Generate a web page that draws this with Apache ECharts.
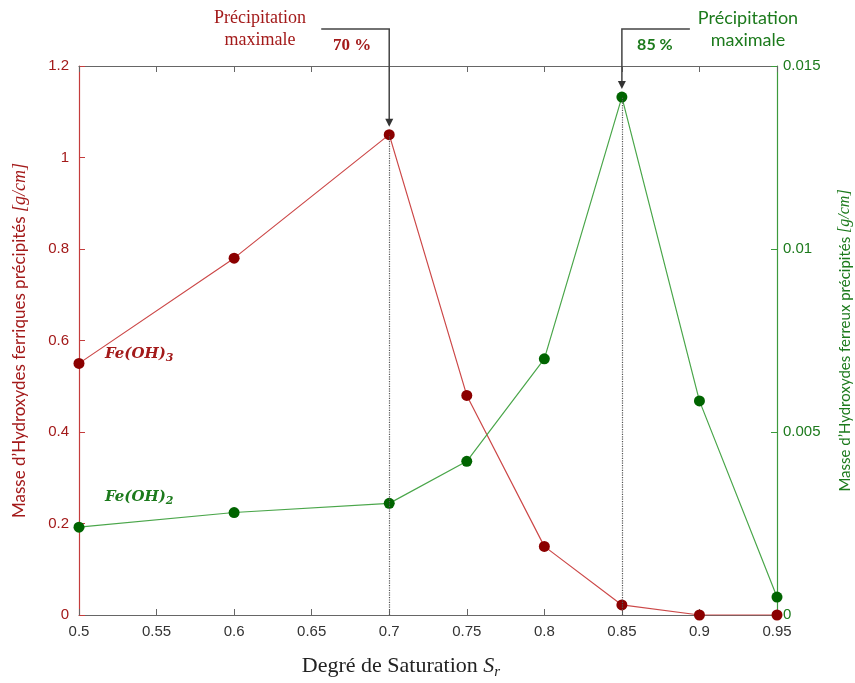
<!DOCTYPE html>
<html><head><meta charset="utf-8">
<script src="https://cdn.jsdelivr.net/npm/echarts@6/dist/echarts.min.js"></script>
<style>html,body{margin:0;padding:0;background:#fff}#c{width:855px;height:683px}</style>
</head><body><div id="c"></div>
<script>
const saturation = [0.5, 0.6, 0.7, 0.75, 0.8, 0.85, 0.9, 0.95];
const feOH3 = [0.55, 0.78, 1.05, 0.48, 0.15, 0.022, 0, 0];
const feOH2 = [0.0024, 0.0028, 0.00305, 0.0042, 0.0070, 0.01415, 0.00585, 0.00049];
const leftTicks = { min: 0, max: 1.2, interval: 0.2 };
const rightTicks = { min: 0, max: 0.015, interval: 0.005 };
const xTicks = { min: 0.5, max: 0.95, interval: 0.05 };
const peak3 = [0.7, 1.05];
const peak2 = [0.85, 0.01415];

const RED = '#a31a1a', RED_LINE = '#cc4848', RED_MK = '#8b0000';
const GREEN = '#1c7a1c', GREEN_LINE = '#4aa64a', GREEN_MK = '#006400';
const GRAY = '#666';
const fmt = v => String(+v.toFixed(4));

const chart = echarts.init(document.getElementById('c'));
const option = {
  animation: false,
  grid: { left: 79, right: 78, top: 66, bottom: 68, containLabel: false, outerBoundsMode: 'none' },
  xAxis: [{
    type: 'value', position: 'bottom', min: xTicks.min, max: xTicks.max, interval: xTicks.interval,
    axisLine: { onZero: false, lineStyle: { color: GRAY, width: 1.2 } },
    axisTick: { inside: true, length: 6, lineStyle: { color: GRAY } },
    splitLine: { show: false },
    axisLabel: { color: '#333', fontSize: 15, fontFamily: 'Liberation Sans', margin: 9, formatter: fmt },
    name: '{n|Degré de Saturation }{i|S}{s|r}', nameLocation: 'middle', nameGap: 38,
    nameTextStyle: { padding: [0, 54, 0, 0], rich: {
      n: { fontFamily: 'Liberation Serif', fontSize: 22, color: '#222' },
      i: { fontFamily: 'Liberation Serif', fontStyle: 'italic', fontSize: 22, color: '#222' },
      s: { fontFamily: 'Liberation Serif', fontStyle: 'italic', fontSize: 15, color: '#222', verticalAlign: 'bottom', padding: [12, 0, 0, 0] }
    } }
  }, {
    type: 'value', position: 'top', min: xTicks.min, max: xTicks.max, interval: xTicks.interval,
    axisLine: { onZero: false, lineStyle: { color: GRAY, width: 1.2 } },
    axisTick: { inside: true, length: 6, lineStyle: { color: GRAY } },
    axisLabel: { show: false }, splitLine: { show: false }
  }],
  yAxis: [{
    type: 'value', position: 'left', min: leftTicks.min, max: leftTicks.max, interval: leftTicks.interval,
    axisLine: { show: true, onZero: false, lineStyle: { color: '#c43c3c', width: 1.2 } },
    axisTick: { show: true, inside: true, length: 6, lineStyle: { color: '#c43c3c' } },
    splitLine: { show: false },
    axisLabel: { color: RED, fontSize: 15, fontFamily: 'Liberation Sans', margin: 10, formatter: fmt },
    name: '{n|Masse d’Hydroxydes ferriques précipités }{i|[g/cm]}', nameLocation: 'middle', nameGap: 50,
    nameTextStyle: { rich: {
      n: { fontFamily: 'Lato', fontSize: 17, color: RED },
      i: { fontFamily: 'Liberation Serif', fontStyle: 'italic', fontSize: 18, color: RED }
    } }
  }, {
    type: 'value', position: 'right', min: rightTicks.min, max: rightTicks.max, interval: rightTicks.interval,
    axisLine: { show: true, onZero: false, lineStyle: { color: '#3c9a3c', width: 1.2 } },
    axisTick: { show: true, inside: true, length: 6, lineStyle: { color: '#3c9a3c' } },
    splitLine: { show: false },
    axisLabel: { color: GREEN, fontSize: 15, fontFamily: 'Liberation Sans', margin: 6, formatter: fmt },
    name: '{n|Masse d’Hydroxydes ferreux précipités }{i|[g/cm]}', nameLocation: 'middle', nameGap: 60,
    nameRotate: 90,
    nameTextStyle: { rich: {
      n: { fontFamily: 'Lato', fontSize: 15, color: GREEN },
      i: { fontFamily: 'Liberation Serif', fontStyle: 'italic', fontSize: 16, color: GREEN }
    } }
  }],
  series: [{
    type: 'line', xAxisIndex: 0, yAxisIndex: 0,
    data: saturation.map((x, i) => [x, feOH3[i]]),
    lineStyle: { color: RED_LINE, width: 1.2 }, itemStyle: { color: RED_MK },
    symbol: 'circle', symbolSize: 11, z: 3,
    markLine: { silent: true, symbol: 'none', label: { show: false },
      lineStyle: { color: '#555', type: 'dotted', width: 1.2 },
      data: [[{ coord: [peak3[0], 0] }, { coord: peak3 }]] }
  }, {
    type: 'line', xAxisIndex: 0, yAxisIndex: 1,
    data: saturation.map((x, i) => [x, feOH2[i]]),
    lineStyle: { color: GREEN_LINE, width: 1.2 }, itemStyle: { color: GREEN_MK },
    symbol: 'circle', symbolSize: 11, z: 3,
    markLine: { silent: true, symbol: 'none', label: { show: false },
      lineStyle: { color: '#555', type: 'dotted', width: 1.2 },
      data: [[{ coord: [peak2[0], 0] }, { coord: peak2 }]] }
  }]
};
chart.setOption(option);

const p3 = chart.convertToPixel({ xAxisIndex: 0, yAxisIndex: 0 }, peak3);
const p2 = chart.convertToPixel({ xAxisIndex: 0, yAxisIndex: 1 }, peak2);
const topY = 29;
function arrow(x, yEnd) {
  return { type: 'polygon', shape: { points: [[x - 4, yEnd - 8], [x + 4, yEnd - 8], [x, yEnd]] }, style: { fill: '#333' }, z: 10 };
}
const serifRich = (color) => ({
  b: { fontFamily: 'DejaVu Serif', fontWeight: 'bold', fontStyle: 'italic', fontSize: 15, fill: color },
  s: { fontFamily: 'DejaVu Serif', fontWeight: 'bold', fontStyle: 'italic', fontSize: 11, fill: color, padding: [8, 0, 0, 0] }
});
chart.setOption({ graphic: [
  { type: 'polyline', shape: { points: [[p3[0] - 68, topY], [p3[0], topY], [p3[0], p3[1] - 10]] }, style: { stroke: '#444', lineWidth: 1.5, fill: null }, z: 10 },
  arrow(p3[0], p3[1] - 8),
  { type: 'polyline', shape: { points: [[p2[0] + 68, topY], [p2[0], topY], [p2[0], p2[1] - 10]] }, style: { stroke: '#444', lineWidth: 1.5, fill: null }, z: 10 },
  arrow(p2[0], p2[1] - 8),
  { type: 'text', x: 260, y: 29, style: { text: 'Précipitation\nmaximale', fill: RED, fontSize: 18, fontFamily: 'Liberation Serif', align: 'center', verticalAlign: 'middle', lineHeight: 22 } },
  { type: 'text', x: p3[0] - 37, y: 46, style: { text: '70 %', fill: RED, fontSize: 17, fontWeight: 'bold', fontFamily: 'Liberation Serif', align: 'center', verticalAlign: 'middle' } },
  { type: 'text', x: 748, y: 29, style: { text: 'Précipitation\nmaximale', fill: GREEN, fontSize: 18, fontFamily: 'Lato', align: 'center', verticalAlign: 'middle', lineHeight: 22 } },
  { type: 'text', x: p2[0] + 33, y: 45, style: { text: '85 %', fill: GREEN, fontSize: 16, fontWeight: 'bold', fontFamily: 'Lato', align: 'center', verticalAlign: 'middle' } },
  { type: 'text', x: 105, y: 354, style: { text: '{b|Fe(OH)}{s|3}', rich: serifRich(RED), verticalAlign: 'middle' } },
  { type: 'text', x: 105, y: 497, style: { text: '{b|Fe(OH)}{s|2}', rich: serifRich(GREEN), verticalAlign: 'middle' } }
] });
</script></body></html>
